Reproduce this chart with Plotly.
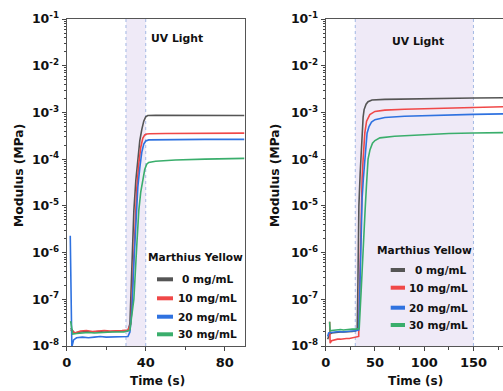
import plotly.graph_objects as go

W, H = 503, 391

# ---------------- data ----------------
series_names = ["0 mg/mL", "10 mg/mL", "20 mg/mL", "30 mg/mL"]
series_colors = ["#555555", "#f04848", "#2f72e0", "#3aae6c"]

# left panel (UV 30-40 s)
l_t0 = [2, 4, 7, 10, 13, 16, 19, 22, 25, 28, 31, 32, 33, 34, 35, 36, 37, 38, 39, 40, 41, 45, 55, 70, 90]
l_v0 = [2.4e-8, 1.9e-8, 2.0e-8, 2.05e-8, 2.0e-8, 2.05e-8, 2.0e-8, 2.05e-8, 2.05e-8, 2.1e-8, 2.1e-8,
        3e-8, 5e-7, 8e-6, 3.5e-5, 1.1e-4, 2.5e-4, 4.3e-4, 6.5e-4, 8.1e-4, 8.6e-4, 8.7e-4, 8.7e-4, 8.65e-4, 8.6e-4]
l_t1 = [2, 4, 7, 10, 13, 16, 19, 22, 25, 28, 31, 32.5, 33.5, 34.5, 35.5, 36.5, 37.5, 38.5, 39.5, 40.5, 42, 50, 65, 90]
l_v1 = [2.2e-8, 1.9e-8, 2.1e-8, 2.15e-8, 2.05e-8, 2.1e-8, 2.15e-8, 2.1e-8, 2.1e-8, 2.15e-8, 2.2e-8,
        3e-8, 3e-7, 4e-6, 2.5e-5, 8e-5, 1.8e-4, 2.8e-4, 3.3e-4, 3.45e-4, 3.5e-4, 3.55e-4, 3.58e-4, 3.6e-4]
l_t2 = [1.8, 2.6, 3.5, 5, 8, 11, 14, 17, 20, 23, 26, 29, 31, 32, 33, 34, 35, 36, 37, 38, 39, 40, 41.5, 50, 70, 90]
l_v2 = [2.3e-6, 9.5e-9, 1.35e-8, 1.5e-8, 1.55e-8, 1.5e-8, 1.55e-8, 1.6e-8, 1.55e-8, 1.55e-8, 1.6e-8, 1.55e-8, 1.6e-8,
        2e-8, 6e-8, 6e-7, 5e-6, 2.5e-5, 6.5e-5, 1.4e-4, 2.1e-4, 2.45e-4, 2.58e-4, 2.62e-4, 2.65e-4, 2.65e-4]
l_t3 = [2, 3, 5, 8, 11, 14, 17, 20, 23, 26, 29, 32, 34, 35.5, 36.5, 37.5, 38.5, 39.5, 40.5, 41.5, 45, 55, 70, 90]
l_v3 = [3.4e-8, 1.8e-8, 1.85e-8, 1.9e-8, 1.95e-8, 1.9e-8, 1.95e-8, 1.95e-8, 2.0e-8, 2.0e-8, 2.0e-8,
        2.2e-8, 1e-7, 1.5e-6, 8e-6, 2e-5, 3.7e-5, 6e-5, 7.8e-5, 8.5e-5, 9e-5, 9.6e-5, 1.0e-4, 1.04e-4]

# right panel (UV 30-150 s)
r_t0 = [2, 4, 6, 9, 12, 15, 18, 21, 24, 27, 30, 32, 32.5, 33, 33.7, 35, 35.7, 36.7, 38, 39, 41, 43, 47, 60, 80, 100, 125, 150, 180]
r_v0 = [1.4e-8, 1.8e-8, 1.9e-8, 1.95e-8, 1.95e-8, 2.0e-8, 2.0e-8, 2.0e-8, 2.05e-8, 2.05e-8, 2.1e-8, 2.2e-8,
        1e-7, 1e-6, 1e-5, 5e-5, 1e-4, 3.6e-4, 8e-4, 1.15e-3, 1.5e-3, 1.7e-3, 1.85e-3, 1.9e-3, 1.94e-3, 1.97e-3, 2.0e-3, 2.03e-3, 2.06e-3]
r_t1 = [4, 4.5, 6, 9, 12, 15, 18, 21, 24, 27, 30, 33.5, 34.5, 35.3, 36, 37, 38, 39.7, 41.5, 44.8, 50, 60, 80, 100, 125, 150, 180]
r_v1 = [3.3e-8, 1.15e-8, 1.3e-8, 1.35e-8, 1.4e-8, 1.4e-8, 1.45e-8, 1.45e-8, 1.45e-8, 1.5e-8, 1.5e-8, 1.6e-8,
        2e-7, 2e-6, 1e-5, 4e-5, 1e-4, 3.6e-4, 6.5e-4, 9e-4, 1.05e-3, 1.12e-3, 1.17e-3, 1.2e-3, 1.25e-3, 1.28e-3, 1.32e-3]
r_t2 = [2, 3, 5, 8, 11, 14, 17, 20, 23, 26, 29, 32, 33.5, 35, 36, 37, 38.3, 39.7, 42, 44, 46.5, 50, 60, 80, 100, 125, 150, 180]
r_v2 = [1.6e-8, 1.9e-8, 1.95e-8, 2.0e-8, 2.0e-8, 2.05e-8, 2.0e-8, 2.05e-8, 2.05e-8, 2.1e-8, 2.1e-8, 2.15e-8, 2.2e-8,
        3e-7, 3e-6, 1.5e-5, 4e-5, 1e-4, 3.6e-4, 5e-4, 6.2e-4, 7e-4, 7.8e-4, 8.3e-4, 8.6e-4, 8.9e-4, 9.1e-4, 9.3e-4]
r_t3 = [4, 4.5, 6, 9, 12, 15, 18, 21, 24, 27, 30, 34, 36, 38, 40, 41.5, 43, 45, 47.5, 50, 55, 70, 100, 125, 150, 180]
r_v3 = [3.3e-8, 2.1e-8, 2.15e-8, 2.2e-8, 2.2e-8, 2.25e-8, 2.2e-8, 2.25e-8, 2.25e-8, 2.3e-8, 2.3e-8, 2.35e-8,
        1.5e-7, 1.5e-6, 8e-6, 3e-5, 1e-4, 1.6e-4, 2.2e-4, 2.5e-4, 2.85e-4, 3.1e-4, 3.4e-4, 3.55e-4, 3.62e-4, 3.7e-4]

uv_left = [30, 40]
uv_right = [30, 150]

y_tickvals = [1e-8, 1e-7, 1e-6, 1e-5, 1e-4, 1e-3, 1e-2, 1e-1]
y_ticktext = ["10<sup>-8</sup>", "10<sup>-7</sup>", "10<sup>-6</sup>", "10<sup>-5</sup>",
              "10<sup>-4</sup>", "10<sup>-3</sup>", "10<sup>-2</sup>", "10<sup>-1</sup>"]
legend_title = "Marthius Yellow"
uv_label = "UV Light"
x_title = "Time (s)"
y_title = "Modulus (MPa)"

# ---------------- layout helpers ----------------
FONT = "DejaVu Sans"
def px(x):
    return x / W
def py(y):
    return 1 - y / H

left_dom = [px(66.7), px(244.5)]
right_dom = [px(325.7), 1.0]
y_dom = [py(346), py(19)]

fig = go.Figure()
left = [(l_t0, l_v0), (l_t1, l_v1), (l_t2, l_v2), (l_t3, l_v3)]
right = [(r_t0, r_v0), (r_t1, r_v1), (r_t2, r_v2), (r_t3, r_v3)]
for i, (t, v) in enumerate(left):
    fig.add_trace(go.Scatter(x=t, y=v, mode="lines", name=series_names[i], showlegend=False,
                             line=dict(color=series_colors[i], width=1.6), xaxis="x", yaxis="y"))
for i, (t, v) in enumerate(right):
    fig.add_trace(go.Scatter(x=t, y=v, mode="lines", name=series_names[i], showlegend=False,
                             line=dict(color=series_colors[i], width=1.6), xaxis="x2", yaxis="y2"))

minor_vals = [k * 10.0 ** n for n in range(-8, -1) for k in range(2, 10)]

def yaxis(anchor, mirror):
    return dict(type="log", range=[-8, -1], domain=y_dom, anchor=anchor, automargin=False,
                tickvals=y_tickvals, ticktext=y_ticktext, ticks="outside", ticklen=4, tickwidth=1.2,
                tickcolor="#444", showline=True, linecolor="#555", linewidth=1.3, mirror=mirror,
                showgrid=False, zeroline=False,
                tickfont=dict(family=FONT, size=12.5, color="#111", weight="bold"),
                minor=dict(tickvals=minor_vals, ticks="outside", ticklen=2, tickwidth=0.8, tickcolor="#444"))

def xaxis(anchor, dom, rng, dt):
    return dict(domain=dom, range=rng, anchor=anchor, automargin=False, tick0=0, dtick=dt, ticks="outside",
                ticklen=4, tickwidth=1.2, tickcolor="#444", showline=True, linecolor="#555", linewidth=1.3,
                mirror=True, showgrid=False, zeroline=False,
                tickfont=dict(family=FONT, size=13, color="#111", weight="bold"),
                minor=dict(dtick=dt / 2, tick0=0, ticks="outside", ticklen=2.5, tickwidth=1, tickcolor="#444"))

fig.update_layout(
    width=W, height=H, margin=dict(l=0, r=0, t=0, b=0, autoexpand=False),
    paper_bgcolor="white", plot_bgcolor="white", showlegend=False,
    xaxis=xaxis("y", left_dom, [0, 90], 40),
    yaxis=yaxis("x", True),
    xaxis2=xaxis("y2", right_dom, [0, 180], 50),
    yaxis2=yaxis("x2", False),
)

shapes = []
for xr, yr, (a, b) in [("x", "y domain", uv_left), ("x2", "y2 domain", uv_right)]:
    shapes.append(dict(type="rect", xref=xr, yref=yr, x0=a, x1=b, y0=0, y1=1,
                       fillcolor="#efeaf7", line=dict(width=0), layer="below"))
    for xv in (a, b):
        shapes.append(dict(type="line", xref=xr, yref=yr, x0=xv, x1=xv, y0=0, y1=1,
                           line=dict(color="#a3b8e3", width=1, dash="dot"), layer="below"))

annots = []
bold = dict(family=FONT, color="#111", weight="bold")

def note(text, x, y, size, xanchor="center", angle=0):
    annots.append(dict(text=text, x=px(x), y=py(y), xref="paper", yref="paper", showarrow=False,
                       xanchor=xanchor, yanchor="middle", textangle=angle,
                       font=dict(size=size, **bold)))

# UV light labels
note(uv_label, 177, 38, 10.8)
note(uv_label, 418, 41, 10.8)
# axis titles
for cx in (157, 415):
    note(x_title, cx, 381, 12)
for cx in (19, 275):
    note(y_title, cx, 176, 12.3, angle=-90)

# legends (manual)
legends = [
    dict(title=(195, 257), sym=(157, 173), tx=[180, 175.7, 175.7, 175.7], rows=[279.3, 298.3, 316.7, 334.3]),
    dict(title=(424.7, 250), sym=(390.7, 405), tx=[412.7, 406.7, 406.7, 406.7], rows=[270, 287.7, 307.7, 325]),
]
for lg in legends:
    note(legend_title, lg["title"][0], lg["title"][1], 10.6)
    for i in range(4):
        ry = lg["rows"][i]
        shapes.append(dict(type="line", xref="paper", yref="paper", x0=px(lg["sym"][0]), x1=px(lg["sym"][1]),
                           y0=py(ry), y1=py(ry), line=dict(color=series_colors[i], width=4)))
        note(series_names[i], lg["tx"][i], ry, 10.6, xanchor="left")

fig.update_layout(shapes=shapes, annotations=annots)
fig.write_html("out.html", config={"displayModeBar": False},
               post_script="document.body.style.margin='0';document.body.style.overflow='hidden';")
